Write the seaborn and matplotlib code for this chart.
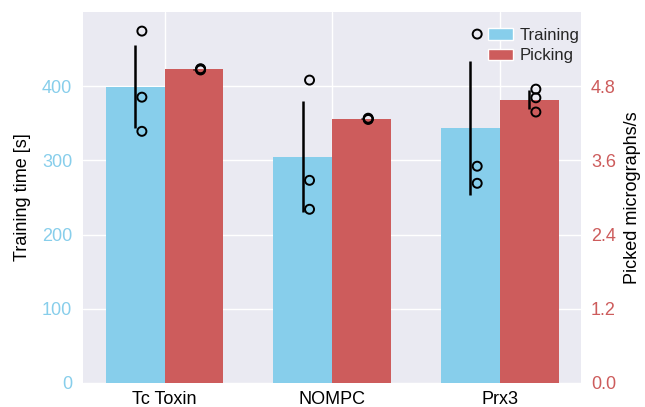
import numpy as np
import pandas as pd
import matplotlib
matplotlib.use("Agg")
import matplotlib.pyplot as plt
import seaborn as sns
from matplotlib.patches import Patch

datasets = ["Tc Toxin", "NOMPC", "Prx3"]
training_runs = [[474, 385, 339], [408, 273, 234], [470, 292, 269]]
picking_runs = [[5.08, 5.07, 5.06], [4.28, 4.27, 4.26], [4.75, 4.61, 4.38]]
left_ticks = [0, 100, 200, 300, 400]
right_ticks = [0.0, 1.2, 2.4, 3.6, 4.8]

train_color = "skyblue"
pick_color = "indianred"

sns.set_style("darkgrid")
plt.rcParams['font.family'] = ['Liberation Sans', 'DejaVu Sans']

rows = []
for d, tr, pk in zip(datasets, training_runs, picking_runs):
    rows.append({"dataset": d, "metric": "Training", "value": float(np.mean(tr))})
    rows.append({"dataset": d, "metric": "Picking", "value": float(np.mean(pk))})
df = pd.DataFrame(rows)
palette = {"Training": train_color, "Picking": pick_color}
hue_order = ["Training", "Picking"]

fig = plt.figure(figsize=(6.45, 4.07), dpi=100)
ax = fig.add_axes([0.129, 0.059, 0.772, 0.912])
ax2 = ax.twinx()

sns.barplot(data=df[df.metric == "Training"], x="dataset", y="value", hue="metric",
            hue_order=hue_order, order=datasets, palette=palette, width=0.7,
            dodge=True, saturation=1, errorbar=None, legend=False, linewidth=0, ax=ax)
sns.barplot(data=df[df.metric == "Picking"], x="dataset", y="value", hue="metric",
            hue_order=hue_order, order=datasets, palette=palette, width=0.7,
            dodge=True, saturation=1, errorbar=None, legend=False, linewidth=0, ax=ax2)

w = 0.35
off = 0.04
for i, (tr, pk) in enumerate(zip(training_runs, picking_runs)):
    xt = i - w / 2
    xp = i + w / 2
    ax.errorbar(xt, np.mean(tr), yerr=np.std(tr), fmt='none', ecolor='black',
                elinewidth=1.8, capsize=0, zorder=5)
    ax.scatter([xt + off] * len(tr), tr, s=42, facecolors='none', edgecolors='black',
               linewidths=1.4, zorder=6)
    ax2.errorbar(xp, np.mean(pk), yerr=np.std(pk), fmt='none', ecolor='black',
                 elinewidth=1.8, capsize=0, zorder=5)
    ax2.scatter([xp + off] * len(pk), pk, s=42, facecolors='none', edgecolors='black',
                linewidths=1.4, zorder=6)

ax.set_xlim(-0.485, 2.485)
ax.set_ylim(0, 500)
ax2.set_ylim(0, 6)
ax.set_yticks(left_ticks)
ax2.set_yticks(right_ticks)
ax2.set_yticklabels([f"{t:.1f}" for t in right_ticks])
ax.xaxis.grid(True, color='white', linewidth=1)
ax.yaxis.grid(True, color='white', linewidth=1)
ax.set_axisbelow(True)
ax2.grid(False)
ax.set_xlabel("")
ax2.set_xlabel("")
ax.set_ylabel("Training time [s]", fontsize=13, color='black', labelpad=8)
ax2.set_ylabel("Picked micrographs/s", fontsize=13, color='black', labelpad=6)
ax.tick_params(axis='y', colors=train_color, labelsize=13, length=0, pad=8)
ax2.tick_params(axis='y', colors=pick_color, labelsize=13, length=0, pad=7)
ax.tick_params(axis='x', labelsize=13, length=0, pad=6, labelcolor='black')
ax2.tick_params(axis='x', length=0)
for sp in list(ax.spines.values()) + list(ax2.spines.values()):
    sp.set_visible(False)

handles = [Patch(facecolor=train_color, label="Training"),
           Patch(facecolor=pick_color, label="Picking")]
ax2.legend(handles=handles, loc='upper right', bbox_to_anchor=(1.0, 0.962),
           frameon=False, fontsize=12, borderaxespad=0, borderpad=0.1,
           handlelength=1.5, handletextpad=0.4, labelspacing=0.35)

fig.savefig("out.png", dpi=100)
